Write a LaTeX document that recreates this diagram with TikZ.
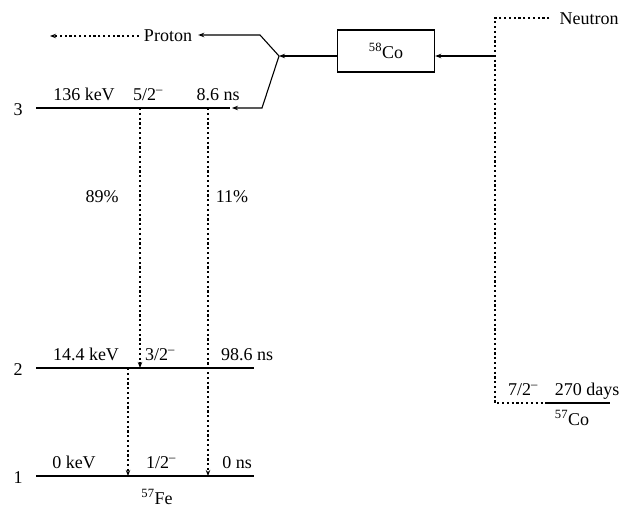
\documentclass[tikz,border=0pt]{standalone}
\usepackage{fontspec}
\setmainfont{Liberation Serif}
\usetikzlibrary{arrows.meta,calc}
\begin{document}
\begin{tikzpicture}[x=1pt,y=-1pt,
  lbl/.style={font=\fontsize{18}{20}\selectfont, inner sep=0pt, anchor=base},
  level/.style={line width=1.7pt},
  tip/.style={-{Stealth[length=6pt,width=4.5pt]}},
  trans/.style={dash pattern=on 2.2pt off 2.6pt, line width=1.1pt},
  conn/.style={line width=1.1pt},
  boxnode/.style={draw, line width=1.4pt, minimum width=97pt, minimum height=42pt, inner sep=0pt, font=\fontsize{18}{20}\selectfont}]
\path[use as bounding box] (0,0) rectangle (639,508);
\newcommand{\sm}{\textsuperscript{–}}
% levels
\coordinate (l3a) at (36,108); \coordinate (l3b) at (230,108);
\coordinate (l2a) at (36,368); \coordinate (l2b) at (254,368);
\coordinate (l1a) at (36,476); \coordinate (l1b) at (254,476);
\draw[level] (l3a) -- (l3b);
\draw[level] (l2a) -- (l2b);
\draw[level] (l1a) -- (l1b);
% level numbers
\node[lbl] (n3) at (18,115) {3};
\node[lbl] (n2) at (18,375) {2};
\node[lbl] (n1) at (18,483) {1};
% level 3 labels
\node[lbl] (e3) at (84,100) {136 keV};
\node[lbl] (s3) at (148,100) {5/2\sm};
\node[lbl] (t3) at (218,100) {8.6 ns};
% level 2 labels
\node[lbl] (e2) at (86,360) {14.4 keV};
\node[lbl] (s2) at (160,360) {3/2\sm};
\node[lbl] (t2) at (247,360) {98.6 ns};
% level 1 labels
\node[lbl] (e1) at (74,468) {0 keV};
\node[lbl] (s1) at (161,468) {1/2\sm};
\node[lbl] (t1) at (237,468) {0 ns};
\node[lbl] (fe) at (157,504) {\textsuperscript{57}Fe};
% transitions
\coordinate (a32) at (140,108); \coordinate (b32) at (140,368);
\coordinate (a21) at (128,368); \coordinate (b21) at (128,476);
\coordinate (a31) at (208,108); \coordinate (b31) at (208,476);
\draw[trans,tip] (a32) -- (b32);
\draw[trans,tip] (a21) -- (b21);
\draw[trans,tip] (a31) -- (b31);
\node[lbl] (p89) at (102,202) {89\%};
\node[lbl] (p11) at (232,202) {11\%};
% proton
\node[lbl] (proton) at (168,42) {Proton};
\coordinate (pend) at (50,36);
\draw[trans,tip] ($(proton.west |- pend)+(-5,0)$) -- (pend);
\coordinate (jn) at (279,56);
\coordinate (bend1) at (260,35);
\coordinate (bend2) at (262,108);
\draw[conn,tip] (jn) -- (bend1) -- ($(proton.east |- bend1)+(6,0)$);
% box
\node[boxnode] (co58) at (386,51) {\textsuperscript{58}Co};
\draw[conn,tip] (co58.west |- jn) -- (jn);
\draw[conn,tip] (jn) -- (bend2) -- (232,108);
% neutron
\node[lbl] (neutron) at (589,25) {Neutron};
\coordinate (nt) at (495,18);
\coordinate (nm) at (495,56);
\coordinate (nb) at (495,403);
\coordinate (nc) at (548,403);
\coordinate (nd) at (610,403);
\draw[trans] ($(neutron.west |- nt)+(-10,0)$) -- (nt) -- (nb) -- (nc);
\draw[level] (nc) -- (nd);
\draw[conn,tip] (nm) -- (co58.east |- nm);
\node[lbl] (s57) at (523,395) {7/2\sm};
\node[lbl] (d57) at (587,395) {270 days};
\node[lbl] (co57) at (572,425) {\textsuperscript{57}Co};
\end{tikzpicture}
\end{document}
